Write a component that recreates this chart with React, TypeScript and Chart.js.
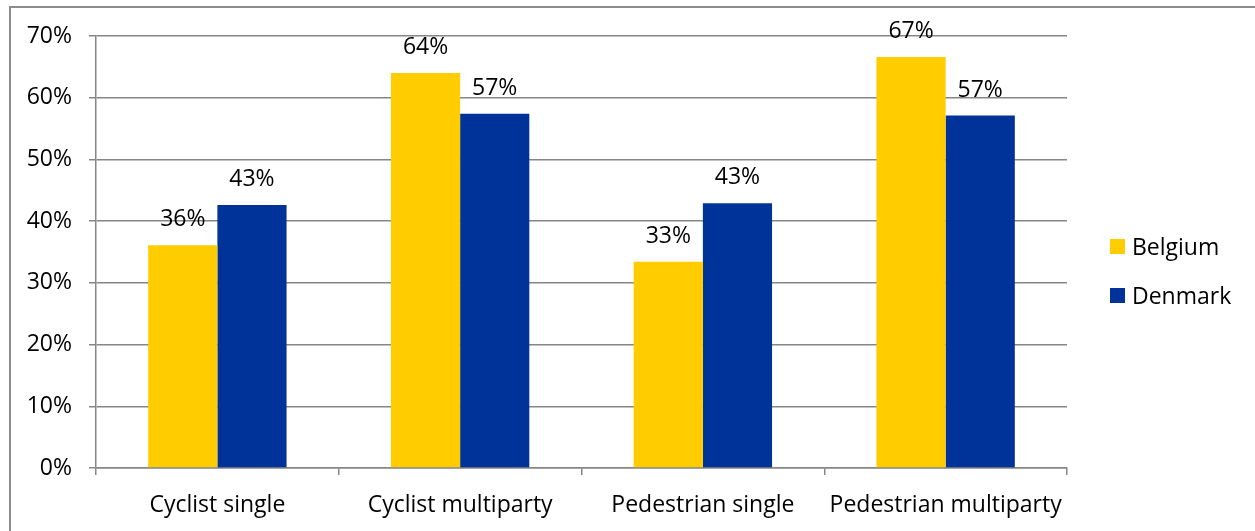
import React, { useEffect, useRef } from "react";
import { Chart, registerables } from "chart.js";

Chart.register(...registerables);

const categories = ["Cyclist single", "Cyclist multiparty", "Pedestrian single", "Pedestrian multiparty"];
const belgium = [36.1, 64.0, 33.4, 66.6];
const denmark = [42.6, 57.4, 42.9, 57.1];
const seriesNames = ["Belgium", "Denmark"];
const seriesColors = ["#FFCC00", "#003399"];

const FONT = "'Open Sans', 'Liberation Sans', sans-serif";
const FS = 23;

const labelPlugin = {
  id: "barLabels",
  afterDatasetsDraw(chart: any) {
    const ctx = chart.ctx;
    ctx.save();
    ctx.font = `${FS}px ${FONT}`;
    ctx.fillStyle = "#000";
    ctx.textAlign = "center";
    ctx.textBaseline = "alphabetic";
    chart.data.datasets.forEach((ds: any, i: number) => {
      const meta = chart.getDatasetMeta(i);
      meta.data.forEach((bar: any, j: number) => {
        const v = ds.data[j];
        ctx.fillText(Math.round(v) + "%", bar.x, bar.y - 19);
      });
    });
    ctx.restore();
  },
};

export default function App() {
  const ref = useRef<HTMLCanvasElement>(null);
  useEffect(() => {
    const chart = new Chart(ref.current!, {
      type: "bar",
      data: {
        labels: categories,
        datasets: [
          { label: seriesNames[0], data: belgium, backgroundColor: seriesColors[0], categoryPercentage: 0.57, barPercentage: 1.0 },
          { label: seriesNames[1], data: denmark, backgroundColor: seriesColors[1], categoryPercentage: 0.57, barPercentage: 1.0 },
        ],
      },
      options: {
        animation: false,
        responsive: false,
        maintainAspectRatio: false,
        layout: { padding: { left: 0, right: 188, top: 36, bottom: 0 } },
        plugins: { legend: { display: false }, tooltip: { enabled: false } },
        scales: {
          x: {
            grid: { offset: true, drawOnChartArea: false, color: "#868686", tickLength: 7, lineWidth: 1.5 },
            border: { color: "#868686", width: 1.5 },
            ticks: { color: "#000", font: { family: FONT, size: FS }, padding: 17, maxRotation: 0 },
            afterFit: (s: any) => { s.height = 531 - 468; },
          },
          y: {
            min: 0,
            max: 70,
            grid: { color: "#868686", tickLength: 7, lineWidth: 1.5 },
            border: { color: "#868686", width: 1.5 },
            ticks: { stepSize: 10, color: "#000", font: { family: FONT, size: FS }, padding: 17, callback: (v: any) => v + "%" },
            afterFit: (s: any) => { s.width = 96; },
          },
        },
      },
      plugins: [labelPlugin],
    });
    return () => chart.destroy();
  }, []);

  const legendItem = (i: number, top: number) => (
    <div style={{ position: "absolute", left: 1110, top, height: 24, display: "flex", alignItems: "center" }}>
      <div style={{ width: 15, height: 15, background: seriesColors[i], marginRight: 7 }} />
      <span style={{ fontFamily: FONT, fontSize: FS, color: "#000", lineHeight: "24px" }}>{seriesNames[i]}</span>
    </div>
  );

  return (
    <div style={{ position: "fixed", left: 0, top: 0, width: 1255, height: 531, background: "#fff", overflow: "hidden" }}>
      <canvas ref={ref} width={1255} height={531} style={{ position: "absolute", left: 0, top: 0 }} />
      <div style={{ position: "absolute", left: 9, top: 6, width: 1260, height: 540, borderLeft: "2px solid #8c8c8c", borderTop: "2px solid #8c8c8c" }} />
      {legendItem(0, 234)}
      {legendItem(1, 283)}
    </div>
  );
}
